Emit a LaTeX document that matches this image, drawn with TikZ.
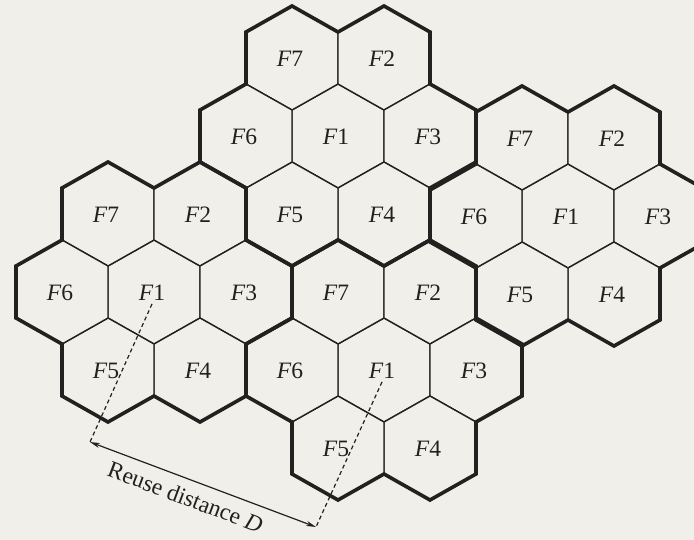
\documentclass[tikz,border=0pt]{standalone}
\usepackage{fontspec}
\setmainfont{Liberation Serif}
\usetikzlibrary{arrows.meta}
\definecolor{paper}{RGB}{241,239,234}
\definecolor{ink}{RGB}{35,33,32}
\tikzset{
  hexcell/.style={draw=ink, line width=1.4pt, fill=paper},
  clusterline/.style={draw=ink, line width=3.6pt, line join=miter},
  cellname/.style={font=\fontsize{23.5}{23.5}\selectfont, text=ink, inner sep=0pt},
  dashline/.style={draw=ink, line width=1.2pt, dash pattern=on 4pt off 3pt},
  reusearrow/.style={draw=ink, line width=1.2pt, {Stealth[length=10pt,width=5pt]}-{Stealth[length=10pt,width=5pt]}},
  reusetext/.style={font=\fontsize{23.5}{23.5}\selectfont, text=ink, inner sep=0pt},
}
\begin{document}
\begin{tikzpicture}[x=1pt,y=-1pt]
\fill[paper] (0,0) rectangle (694,540);
\useasboundingbox (0,0) rectangle (694,540);
\clip (0,0) rectangle (694,540);
% cells
\foreach \cl/\cx/\cy in {top/338/136, left/154/292, bot/384/370, right/568/216}{
  \foreach \f/\dx/\dy in {1/0/0, 7/-46/-78, 2/46/-78, 3/92/0, 4/46/78, 5/-46/78, 6/-92/0}{
    \begin{scope}[shift={(\cx+\dx,\cy+\dy)}]
      \draw[hexcell] (0,-52) -- (46,-26) -- (46,26) -- (0,52) -- (-46,26) -- (-46,-26) -- cycle;
      \node[cellname] (\cl-F\f) at (-2,1) {\textit{F}\f};
    \end{scope}
  }
}
% cluster outlines
\foreach \cx/\cy in {338/136, 154/292, 384/370, 568/216}{
  \draw[clusterline, shift={(\cx,\cy)}]
    (-92,-104) -- (-46,-130) -- (0,-104) -- (46,-130) -- (92,-104) -- (92,-52)
    -- (138,-26) -- (138,26) -- (92,52) -- (92,104) -- (46,130) -- (0,104)
    -- (-46,130) -- (-92,104) -- (-92,52) -- (-138,26) -- (-138,-26) -- (-92,-52) -- cycle;
}
% reuse distance
\coordinate (reuseA) at (90,442);
\coordinate (reuseB) at (316,527);
\draw[dashline] ([yshift=-3pt]left-F1.south) -- (reuseA);
\draw[dashline] ([yshift=-3pt]bot-F1.south) -- (reuseB);
\draw[reusearrow] (reuseA) -- (reuseB)
  node[reusetext, pos=0.45, sloped, below=9pt] (reuselabel) {Reuse distance \textit{D}};
\end{tikzpicture}
\end{document}
